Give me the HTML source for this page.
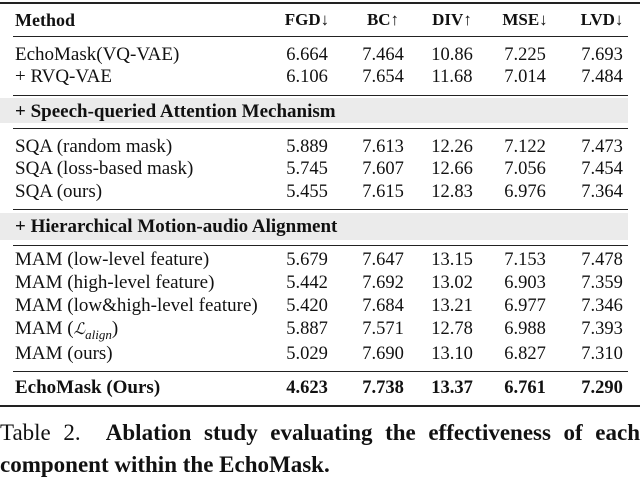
<!DOCTYPE html>
<html><head><meta charset="utf-8"><style>
body{margin:0;width:640px;height:470px;overflow:hidden;background:#fff;font-family:"Liberation Serif",serif;color:#111}
.r{position:absolute;left:0;width:640px;height:22px;line-height:22px;font-size:18.5px}
.r span{position:absolute;top:0}
.m{left:15px;white-space:nowrap;font-size:19px}
.c{width:70px;text-align:center}
.c1{left:272px}.c2{left:348px}.c3{left:417px}.c4{left:490px}.c5{left:567px}
.b{font-weight:bold}
.hl{position:absolute;background:#222}
.band{position:absolute;left:0;width:628px;background:#ebebeb}
.cap{position:absolute;left:0;width:640px;font-size:23px;line-height:32px;white-space:nowrap}
.j{text-align:justify;text-align-last:justify}
</style></head><body>
<div class="hl" style="left:0;top:2px;width:640px;height:2px"></div>
<div class="r b" style="top:9px;font-size:18px"><span class="m" style="font-size:18px">Method</span><span class="c c1" style="font-size:17px">FGD↓</span><span class="c c2" style="font-size:17px">BC↑</span><span class="c c3" style="font-size:17px">DIV↑</span><span class="c c4" style="font-size:17px">MSE↓</span><span class="c c5" style="font-size:17px">LVD↓</span></div>
<div class="hl" style="left:13px;top:36px;width:615px;height:1px"></div>
<div class="r" style="top:44px"><span class="m">EchoMask(VQ-VAE)</span><span class="c c1">6.664</span><span class="c c2">7.464</span><span class="c c3">10.86</span><span class="c c4">7.225</span><span class="c c5">7.693</span></div>
<div class="r" style="top:66px"><span class="m">+ RVQ-VAE</span><span class="c c1">6.106</span><span class="c c2">7.654</span><span class="c c3">11.68</span><span class="c c4">7.014</span><span class="c c5">7.484</span></div>
<div class="hl" style="left:13px;top:95px;width:615px;height:1px"></div>
<div class="band" style="top:98px;height:25px"></div>
<div class="r b" style="top:101px"><span class="m">+ Speech-queried Attention Mechanism</span></div>
<div class="hl" style="left:13px;top:128px;width:615px;height:1px"></div>
<div class="r" style="top:136px"><span class="m">SQA (random mask)</span><span class="c c1">5.889</span><span class="c c2">7.613</span><span class="c c3">12.26</span><span class="c c4">7.122</span><span class="c c5">7.473</span></div>
<div class="r" style="top:158px"><span class="m">SQA (loss-based mask)</span><span class="c c1">5.745</span><span class="c c2">7.607</span><span class="c c3">12.66</span><span class="c c4">7.056</span><span class="c c5">7.454</span></div>
<div class="r" style="top:181px"><span class="m">SQA (ours)</span><span class="c c1">5.455</span><span class="c c2">7.615</span><span class="c c3">12.83</span><span class="c c4">6.976</span><span class="c c5">7.364</span></div>
<div class="hl" style="left:13px;top:209px;width:615px;height:1px"></div>
<div class="band" style="top:213px;height:27px"></div>
<div class="r b" style="top:216px"><span class="m">+ Hierarchical Motion-audio Alignment</span></div>
<div class="hl" style="left:13px;top:245px;width:615px;height:1px"></div>
<div class="r" style="top:249px"><span class="m">MAM (low-level feature)</span><span class="c c1">5.679</span><span class="c c2">7.647</span><span class="c c3">13.15</span><span class="c c4">7.153</span><span class="c c5">7.478</span></div>
<div class="r" style="top:272px"><span class="m">MAM (high-level feature)</span><span class="c c1">5.442</span><span class="c c2">7.692</span><span class="c c3">13.02</span><span class="c c4">6.903</span><span class="c c5">7.359</span></div>
<div class="r" style="top:295px"><span class="m">MAM (low&amp;high-level feature)</span><span class="c c1">5.420</span><span class="c c2">7.684</span><span class="c c3">13.21</span><span class="c c4">6.977</span><span class="c c5">7.346</span></div>
<div class="r" style="top:318px"><span class="m">MAM (<i style="font-family:'DejaVu Serif',serif;font-size:16px">ℒ</i><sub style="font-style:italic;font-size:13px">align</sub>)</span><span class="c c1">5.887</span><span class="c c2">7.571</span><span class="c c3">12.78</span><span class="c c4">6.988</span><span class="c c5">7.393</span></div>
<div class="r" style="top:343px"><span class="m">MAM (ours)</span><span class="c c1">5.029</span><span class="c c2">7.690</span><span class="c c3">13.10</span><span class="c c4">6.827</span><span class="c c5">7.310</span></div>
<div class="hl" style="left:13px;top:371px;width:615px;height:1px"></div>
<div class="r b" style="top:377px"><span class="m">EchoMask (Ours)</span><span class="c c1">4.623</span><span class="c c2">7.738</span><span class="c c3">13.37</span><span class="c c4">6.761</span><span class="c c5">7.290</span></div>
<div class="hl" style="left:0;top:405px;width:640px;height:2px"></div>
<div class="cap j" style="top:417px;white-space:normal">Table 2.&nbsp; <b>Ablation study evaluating the effectiveness of each</b></div>
<div class="cap" style="top:449px"><b>component within the EchoMask.</b></div>
</body></html>
